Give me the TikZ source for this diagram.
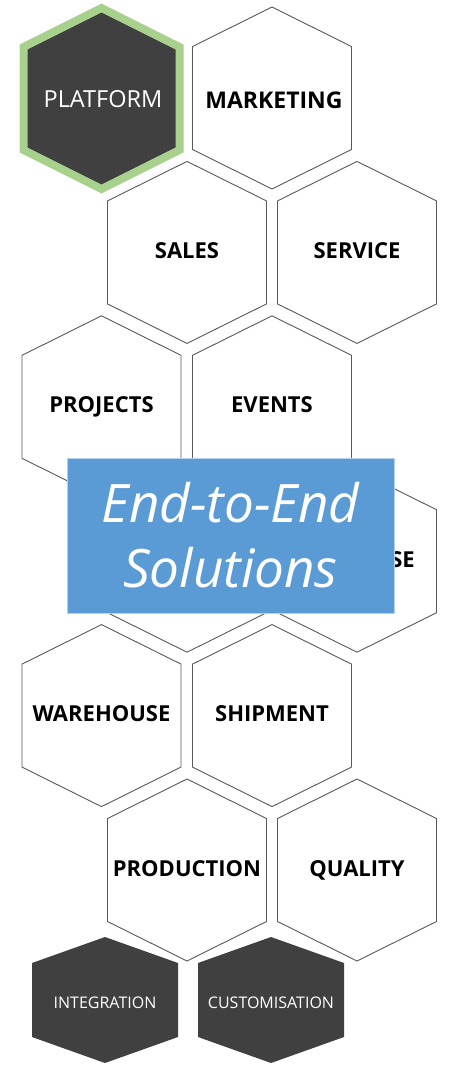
\documentclass[tikz,border=0pt]{standalone}
\usepackage{fontspec}
\setmainfont{Open Sans}
\definecolor{hexdark}{HTML}{404040}
\definecolor{hexgreen}{HTML}{A9D18E}
\definecolor{hexline}{HTML}{595959}
\definecolor{boxblue}{HTML}{5B9BD5}
\tikzset{
  hexcell/.style={draw=hexline,line width=0.9pt,fill=white},
  hexlabel/.style={anchor=base,inner sep=0pt,font=\bfseries\fontsize{22}{26}\selectfont},
  darklabel/.style={anchor=base,inner sep=0pt,text=white,font=\fontsize{16}{19}\selectfont}
}
\begin{document}
\begin{tikzpicture}[x=1pt,y=-1pt]
 \useasboundingbox (0,0) rectangle (459,1077);
 % row 1
 \draw[line width=8pt,draw=hexgreen,fill=hexdark] (101.5,98.5) +(0,-90.5) -- +(78,-51.5) -- +(78,51.5) -- +(0,90.5) -- +(-78,51.5) -- +(-78,-51.5) -- cycle;
 \node[anchor=base,inner sep=0pt,text=white,font=\fontsize{23.5}{27}\selectfont] (platform) at (103,107) {PLATFORM};
 \draw[hexcell] (272,98) +(0,-91) -- +(79.5,-51.5) -- +(79.5,51.5) -- +(0,91) -- +(-79.5,51.5) -- +(-79.5,-51.5) -- cycle;
 \node[hexlabel,font=\bfseries\fontsize{23}{27}\selectfont] (marketing) at (274,108) {MARKETING};
 % rows 2 to 6
 \foreach \cx/\cy/\name/\lbl in {187/252.4/sales/SALES, 357/252.4/service/SERVICE,
   101.5/406.8/projects/PROJECTS, 272/406.8/events/EVENTS,
   187/561.2/inner/{}, 357/561.2/purchase/PURCHASE,
   101.5/715.6/warehouse/WAREHOUSE, 272/715.6/shipment/SHIPMENT,
   187/870/production/PRODUCTION, 357/870/quality/QUALITY} {
   \draw[hexcell] (\cx,\cy) +(0,-91) -- +(79.5,-51.5) -- +(79.5,51.5) -- +(0,91) -- +(-79.5,51.5) -- +(-79.5,-51.5) -- cycle;
   \node[hexlabel] (\name) at (\cx,\cy+6) {\lbl};
 }
 % bottom row
 \foreach \cx/\name/\lbl in {105/integration/INTEGRATION, 271/customisation/CUSTOMISATION} {
   \fill[hexdark] (\cx,1000) +(0,-63) -- +(73,-37) -- +(73,37) -- +(0,63) -- +(-73,37) -- +(-73,-37) -- cycle;
   \node[darklabel] (\name) at (\cx,1008) {\lbl};
 }
 % title box
 \node[fill=boxblue,draw=boxblue!45,line width=1pt,minimum width=327pt,minimum height=155pt,
   inner sep=0pt,text=white,align=center,font=\itshape\fontsize{53}{65}\selectfont] (solutions) at (230.5,535.5) {End-to-End\\Solutions};
\end{tikzpicture}
\end{document}
